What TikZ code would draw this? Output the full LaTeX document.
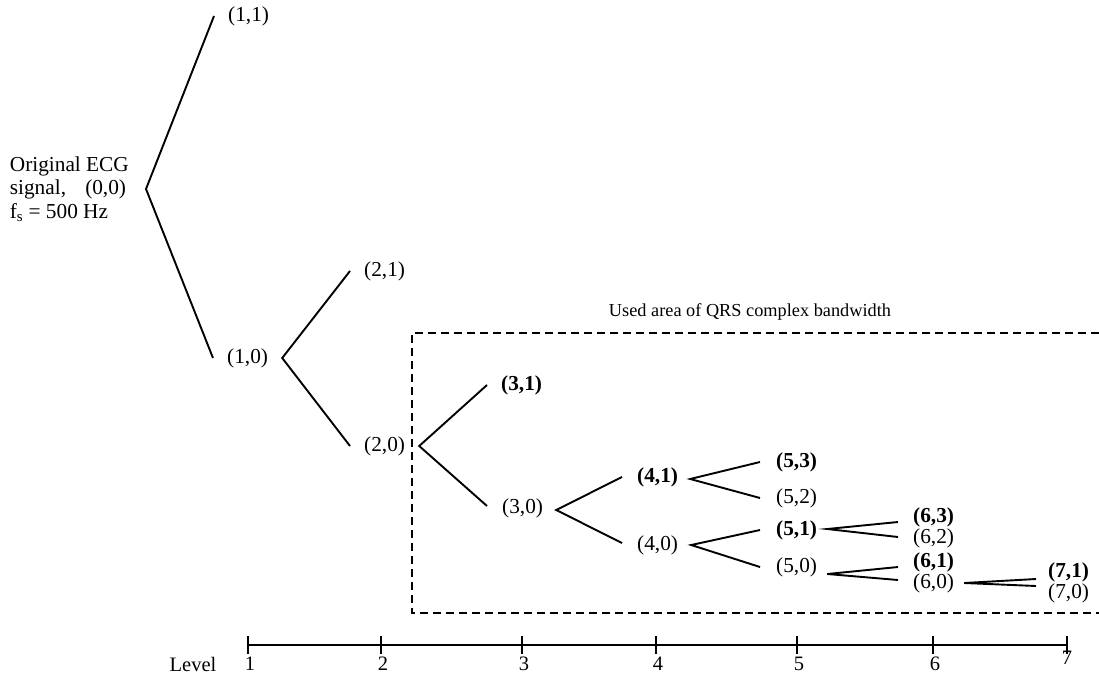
\documentclass[tikz,border=0pt]{standalone}
\usepackage{fontspec}
\setmainfont{Liberation Serif}
\usetikzlibrary{calc}

\tikzset{
  lab/.style={inner sep=0pt, anchor=west, font=\fontsize{21.3}{24}\selectfont},
  blab/.style={lab, font=\fontsize{21.3}{24}\selectfont\bfseries},
  branch/.style={line width=1.9pt},
  usedbox/.style={line width=1.3pt, dash pattern=on 8pt off 5pt},
  axis/.style={line width=1.9pt},
  tick/.style={line width=1.3pt},
  lvl/.style={inner sep=0pt, font=\fontsize{20.5}{23}\selectfont}
}

\begin{document}
\begin{tikzpicture}[x=1pt, y=-1pt]
\useasboundingbox (0,0) rectangle (1099,674);

% root description
\node[inner sep=0pt, anchor=east, align=left, font=\fontsize{21.3}{23.5}\selectfont] (root) at (129,189)
  {Original ECG\\signal,\hspace{0.9em}(0,0)\\f\textsubscript{s} = 500 Hz};

% node labels
\node[lab]  (n11) at (228,16)  {(1,1)};
\node[lab]  (n10) at (227,358) {(1,0)};
\node[lab]  (n21) at (364,271) {(2,1)};
\node[lab]  (n20) at (364,446) {(2,0)};
\node[blab] (n31) at (501,385) {(3,1)};
\node[lab]  (n30) at (502,508) {(3,0)};
\node[blab] (n41) at (637,477) {(4,1)};
\node[lab]  (n40) at (637,545) {(4,0)};
\node[blab] (n53) at (776,462) {(5,3)};
\node[lab]  (n52) at (776,498) {(5,2)};
\node[blab] (n51) at (776,530) {(5,1)};
\node[lab]  (n50) at (776,567) {(5,0)};
\node[blab] (n63) at (913,517) {(6,3)};
\node[lab]  (n62) at (913,538) {(6,2)};
\node[blab] (n61) at (913,562) {(6,1)};
\node[lab]  (n60) at (913,583) {(6,0)};
\node[blab] (n71) at (1048,572) {(7,1)};
\node[lab]  (n70) at (1048,593) {(7,0)};

% decomposition branches
\draw[branch] ([xshift=-14pt]n11.west) -- ([xshift=17pt]root.east) -- ([xshift=-14pt]n10.west);
\draw[branch] ([xshift=-14pt]n21.west) -- ([xshift=14pt]n10.east) -- ([xshift=-14pt]n20.west);
\draw[branch] ([xshift=-14pt]n31.west) -- ([xshift=14pt]n20.east) -- ([shift={(-15,-2)}]n30.west);
\draw[branch] ([xshift=-15pt]n41.west) -- ([shift={(13,2)}]n30.east) -- ([shift={(-15,-2)}]n40.west);
\draw[branch] ([xshift=-16pt]n53.west) -- ([shift={(12,2)}]n41.east) -- ([xshift=-16pt]n52.west);
\draw[branch] ([xshift=-16pt]n51.west) -- ([xshift=13pt]n40.east) -- ([xshift=-16pt]n50.west);
\draw[branch] ([shift={(-15,5)}]n63.west) -- ([shift={(10,-1)}]n51.east) -- ([shift={(-15,-1)}]n62.west);
\draw[branch] ([shift={(-15,5)}]n61.west) -- ([shift={(10,7)}]n50.east) -- ([shift={(-15,-3)}]n60.west);
\draw[branch] ([shift={(-12,7)}]n71.west) -- ([xshift=10pt]n60.east) -- ([shift={(-12,-7)}]n70.west);

% frequency band used for the QRS complex
\coordinate (bxtr) at (1099,333);
\coordinate (bxtl) at (412,333);
\coordinate (bxbl) at (412,613);
\coordinate (bxbr) at (1099,613);
\draw[usedbox] (bxtr) -- (bxtl) -- (bxbl) -- (bxbr);
\node[inner sep=0pt, font=\fontsize{18.3}{21}\selectfont] (used) at (750,312) {Used area of QRS complex bandwidth};

% decomposition level axis
\foreach \i/\x in {1/248,2/381,3/522,4/656,5/797,6/933,7/1067}{
  \coordinate (L\i) at (\x,645);
  \draw[tick] ([yshift=9pt]L\i) -- ([yshift=-9pt]L\i);
}
\draw[axis] (L1) -- (L7);
\foreach \i in {1,...,6}{
  \node[lvl] (d\i) at ($(L\i)+(2,19)$) {\i};
}
\node[lvl] (d7) at ($(L7)+(0,13)$) {7};
\node[lvl] (level) at (193,664) {Level};
\end{tikzpicture}
\end{document}
